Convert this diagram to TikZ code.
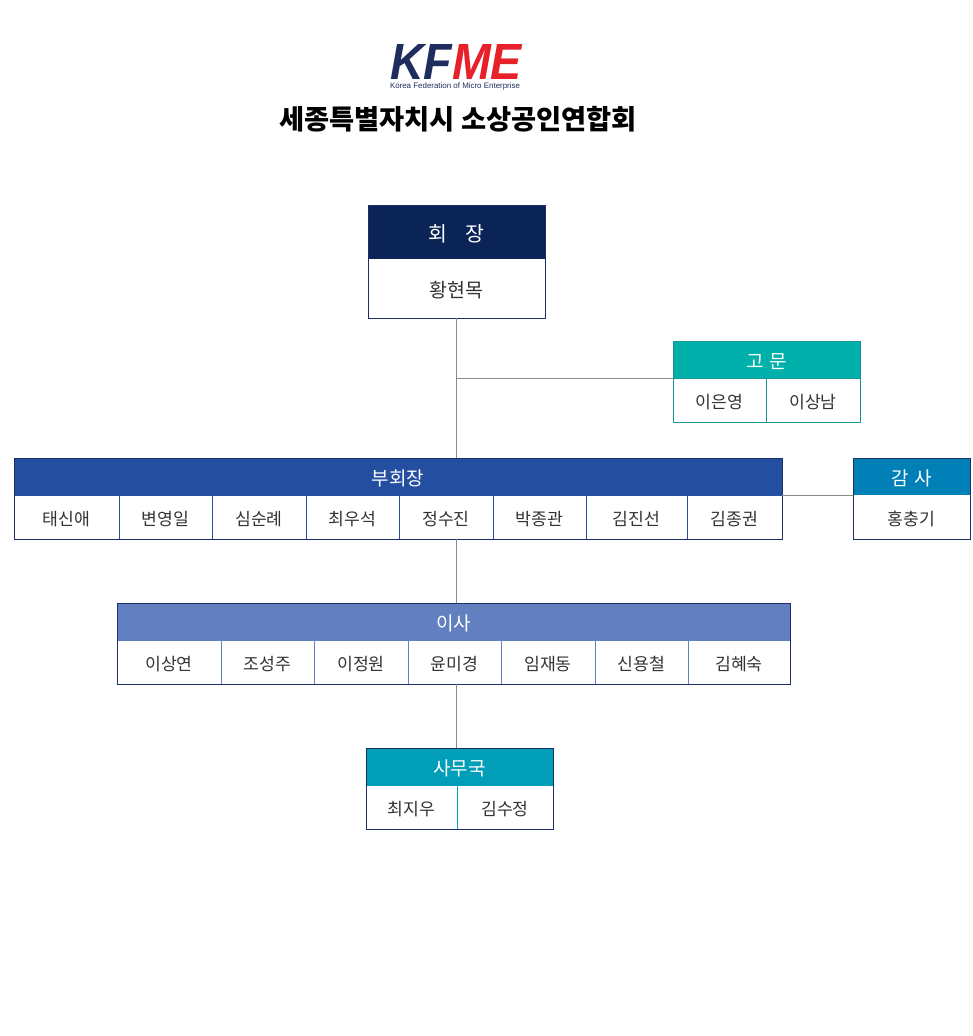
\documentclass[tikz,border=0pt]{standalone}
\usepackage{fontspec}
\setmainfont{Noto Sans CJK KR}
\newfontfamily\logofont{Liberation Sans}
\definecolor{navy}{HTML}{0B2458}
\definecolor{logonavy}{HTML}{1F2C5E}
\definecolor{logored}{HTML}{E8202A}
\definecolor{teal}{HTML}{00B1AB}
\definecolor{tealline}{HTML}{1A9490}
\definecolor{vpblue}{HTML}{244FA0}
\definecolor{audblue}{HTML}{0080B6}
\definecolor{brdblue}{HTML}{6280C0}
\definecolor{secblue}{HTML}{009EB9}
\definecolor{boxline}{HTML}{1B2F66}
\definecolor{conncol}{HTML}{8A8A8A}
\definecolor{nametext}{HTML}{333333}
\newcommand\dnx[1]{\raisebox{-2pt}[\height][\depth]{#1}}
\tikzset{
  hdr/.style={rectangle, inner sep=0pt, outer sep=0pt, anchor=north west, text=white,
    font=\fontsize{19}{19}\selectfont},
  cell/.style={rectangle, inner sep=0pt, outer sep=0pt, anchor=north west, fill=white,
    text=nametext, font=\fontsize{17.2}{17.2}\selectfont, line width=0.9pt},
  frame/.style={draw=boxline, line width=1pt},
  conn/.style={draw=conncol, line width=0.9pt}
}
\begin{document}
\begin{tikzpicture}[x=1pt,y=-1pt]
\useasboundingbox[fill=white] (0,0) rectangle (973,1036);

% logo and title
\node[anchor=south, inner sep=0pt, font=\logofont\bfseries\itshape\fontsize{48}{48}\selectfont] (logo) at (456,80)
  {\resizebox{132pt}{35pt}{\textcolor{logonavy}{KF}\textcolor{logored}{ME}}};
\node[anchor=center, inner sep=0pt, text=logonavy, font=\logofont\fontsize{6}{6}\selectfont] (logosub) at (455,86.5)
  {\resizebox{130pt}{!}{Korea Federation of Micro Enterprise}};
\node[inner sep=0pt, font=\bfseries\fontsize{27.3}{27.3}\selectfont] (title) at (458,119) {세종특별자치시 소상공인연합회};

% president
\node[hdr, fill=navy, minimum width=177, minimum height=54, font=\fontsize{20.5}{20.5}\selectfont] (pres) at (368,205) {\dnx{회\hspace{18pt}장}};
\node[cell, minimum width=177, minimum height=59, font=\fontsize{19.5}{19.5}\selectfont] (presbody) at (368,259) {\dnx{황현목}};
\draw[frame] (pres.north west) rectangle (presbody.south east);

% advisors
\node[hdr, fill=teal, minimum width=187, minimum height=37] (adv) at (673,341) {\dnx{고\hspace{6pt}문}};
\node[cell, draw=tealline, minimum width=93, minimum height=44] (adv1) at (673,378) {\dnx{이은영}};
\node[cell, draw=tealline, minimum width=94, minimum height=44] (adv2) at (766,378) {\dnx{이상남}};
\draw[draw=tealline, line width=1pt] (adv.north west) rectangle (adv2.south east);

% vice presidents
\node[hdr, fill=vpblue, minimum width=768, minimum height=37] (vp) at (14,458) {\dnx{부회장}};
\foreach \a/\b/\t [count=\i] in {14/119/태신애, 119/212/변영일, 212/306/심순례, 306/399/최우석,
   399/493/정수진, 493/586/박종관, 586/687/김진선, 687/782/김종권}{
  \pgfmathsetmacro\w{\b-\a}
  \node[cell, draw=vpblue, minimum width=\w pt, minimum height=44] (vp\i) at (\a,495) {\dnx{\t}};
}
\draw[frame] (vp.north west) rectangle (vp8.south east);

% auditor
\node[hdr, fill=audblue, minimum width=117, minimum height=37] (aud) at (853,458) {\dnx{감\hspace{6pt}사}};
\node[cell, minimum width=117, minimum height=44] (audbody) at (853,495) {\dnx{홍충기}};
\draw[frame] (aud.north west) rectangle (audbody.south east);

% board
\node[hdr, fill=brdblue, minimum width=673, minimum height=37] (brd) at (117,603) {\dnx{이사}};
\foreach \a/\b/\t [count=\i] in {117/221/이상연, 221/314/조성주, 314/408/이정원, 408/501/윤미경,
   501/595/임재동, 595/688/신용철, 688/790/김혜숙}{
  \pgfmathsetmacro\w{\b-\a}
  \node[cell, draw=brdblue, minimum width=\w pt, minimum height=44] (brd\i) at (\a,640) {\dnx{\t}};
}
\draw[frame] (brd.north west) rectangle (brd7.south east);

% secretariat
\node[hdr, fill=secblue, minimum width=187, minimum height=37] (sec) at (366,748) {\dnx{사무국}};
\node[cell, draw=secblue, minimum width=91, minimum height=44] (sec1) at (366,785) {\dnx{최지우}};
\node[cell, draw=secblue, minimum width=96, minimum height=44] (sec2) at (457,785) {\dnx{김수정}};
\draw[frame] (sec.north west) rectangle (sec2.south east);

% connectors
\draw[conn] (presbody.south) -- (presbody.south |- vp.north);
\draw[conn] (presbody.south |- adv.south west) -- (adv.south west);
\draw[conn] (vp.south east) -- (aud.south west);
\draw[conn] (presbody.south |- vp5.south) -- (presbody.south |- brd.north);
\draw[conn] (presbody.south |- brd4.south) -- (presbody.south |- sec.north);
\end{tikzpicture}
\end{document}
